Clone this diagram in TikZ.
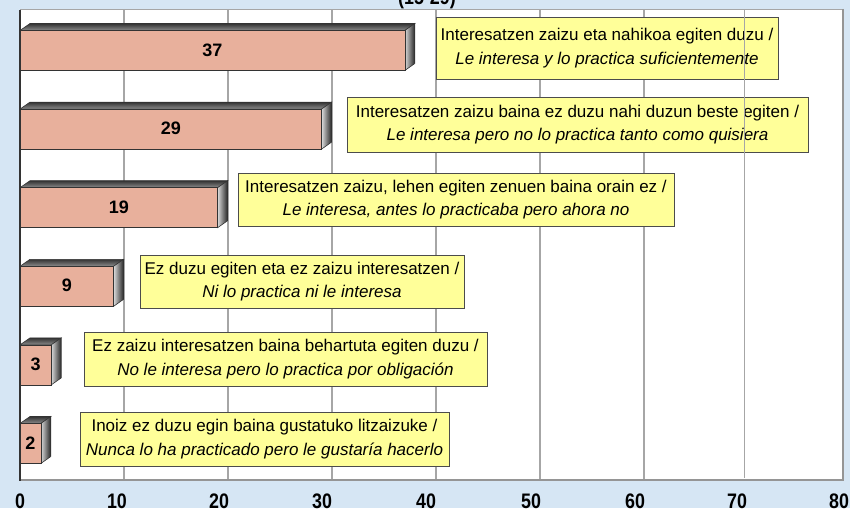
\documentclass[tikz,border=0pt]{standalone}
\usepackage{fontspec}
\setmainfont{Liberation Sans}
\newfontfamily\narrowfont{Liberation Sans}[FakeStretch=0.85]
\definecolor{bgblue}{RGB}{214,230,244}
\definecolor{barfront}{RGB}{232,176,156}
\definecolor{notefill}{RGB}{255,255,153}
\definecolor{gridgray}{RGB}{166,166,166}
\begin{document}
\begin{tikzpicture}[x=1pt,y=-1pt,
		note/.style={draw=black!70,fill=notefill,line width=0.8pt,align=center,inner sep=0pt,
				font=\fontsize{17}{23.5}\selectfont},
		val/.style={font=\fontsize{18}{18}\bfseries\selectfont},
		ticklabel/.style={anchor=base,font=\fontsize{21}{21}\narrowfont\bfseries\selectfont},
		edge/.style={draw=black!80,line width=0.6pt}
	]
	\useasboundingbox[fill=bgblue] (0,0) rectangle (850,508);
	\node[ticklabel] (title) at (427,5) {(15-29)};
	\fill[white] (20,10) rectangle (843,480);
	\foreach \g in {124,228,...,644}
	\draw[gridgray,line width=1.2pt] (\g,10) -- (\g,480);
	\draw[gridgray,line width=1pt] (20,10) -- (843,10);
	\draw[gridgray!90!black,line width=2.5pt] (843,9) -- (843,480) -- (20,480);
	\draw[black!80,line width=1.2pt] (20,10) -- (20,481);
	% bars
	\foreach \v/\yc [count=\i] in {37/50,29/128.6,19/207.2,9/285.8,3/364.4,2/443}{
			\pgfmathsetmacro\xr{20+10.4*\v}
			\shade[top color=black!80,bottom color=black!45,edge]
			(20,\yc-19.5) -- (30,\yc-26.5) -- (\xr+10,\yc-26.5) -- (\xr,\yc-19.5) -- cycle;
			\shade[left color=black!15,right color=black!85,edge]
			(\xr,\yc-19.5) -- (\xr+10,\yc-26.5) -- (\xr+10,\yc+13.5) -- (\xr,\yc+20.5) -- cycle;
			\filldraw[fill=barfront,edge] (20,\yc-19.5) rectangle (\xr,\yc+20.5);
			\node[val] (val\i) at ({(20+\xr)/2},\yc) {\v};
		}
	% labels
	\node[note,minimum width=342,minimum height=62] (lbl1) at (607,48)
	{Interesatzen zaizu eta nahikoa egiten duzu /\\ \textit{Le interesa y lo practica suficientemente}};
	\node[note,minimum width=461,minimum height=55] (lbl2) at (577.5,124.5)
	{Interesatzen zaizu baina ez duzu nahi duzun beste egiten /\\ \textit{Le interesa pero no lo practica tanto como quisiera}};
	\node[note,minimum width=436,minimum height=53] (lbl3) at (456,199.5)
	{Interesatzen zaizu, lehen egiten zenuen baina orain ez /\\ \textit{Le interesa, antes lo practicaba pero ahora no}};
	\node[note,minimum width=324,minimum height=53] (lbl4) at (302,281.5)
	{Ez duzu egiten eta ez zaizu interesatzen /\\ \textit{Ni lo practica ni le interesa}};
	\node[note,minimum width=403,minimum height=54] (lbl5) at (285.5,359)
	{Ez zaizu interesatzen baina behartuta egiten duzu /\\ \textit{No le interesa pero lo practica por obligación}};
	\node[note,minimum width=369,minimum height=54] (lbl6) at (264.5,439)
	{Inoiz ez duzu egin baina gustatuko litzaizuke /\\ \textit{Nunca lo ha practicado pero le gustaría hacerlo}};
	\draw[gridgray,line width=1.2pt] (744.5,10) -- (744.5,478);
	% axis
	\foreach \t/\xp in {0/20,10/117,20/219,30/322,40/426,50/531,60/635,70/737,80/839}
	\node[ticklabel] (t\t) at (\xp,508.5) {\t};
\end{tikzpicture}
\end{document}
